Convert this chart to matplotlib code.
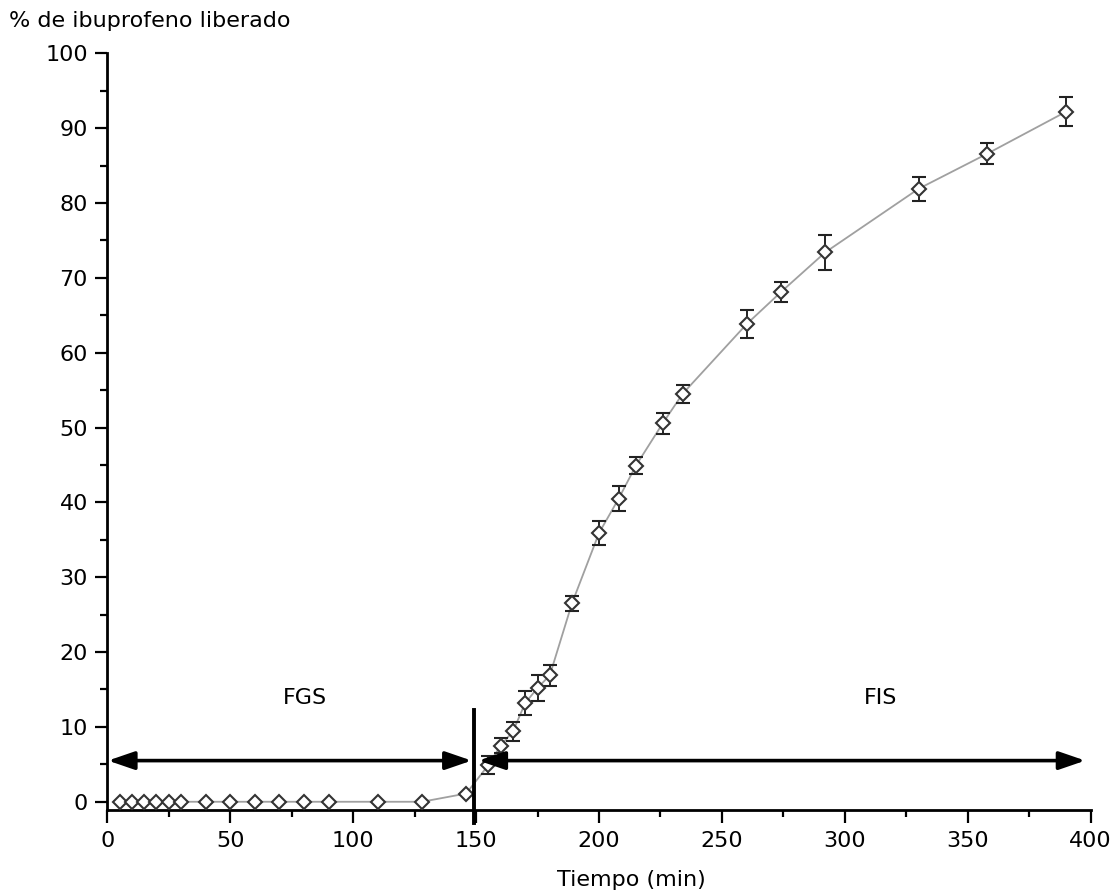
import matplotlib
matplotlib.use('Agg')
import matplotlib.pyplot as plt
from matplotlib.ticker import MultipleLocator

# tiempos de muestreo (min) y porcentaje liberado, con su desviación
tiempo = [5, 10, 15, 20, 25, 30, 40, 50, 60, 70, 80, 90, 110, 128, 146,
          155, 160, 165, 170, 175, 180, 189, 200, 208, 215, 226, 234,
          260, 274, 292, 330, 358, 390]
liberado = [0, 0, 0, 0, 0, 0, 0, 0, 0, 0, 0, 0, 0, 0, 1.1,
            4.9, 7.5, 9.4, 13.2, 15.2, 16.9, 26.5, 35.9, 40.5, 44.9, 50.6, 54.5,
            63.8, 68.1, 73.4, 81.9, 86.6, 92.2]
desv = [0, 0, 0, 0, 0, 0, 0, 0, 0, 0, 0, 0, 0, 0, 0,
        1.2, 1.0, 1.3, 1.6, 1.8, 1.4, 1.0, 1.65, 1.65, 1.15, 1.4, 1.2,
        1.9, 1.35, 2.3, 1.6, 1.35, 1.9]

# cambio de fluido gástrico a intestinal
t_cambio = 149.3
fases = ['FGS', 'FIS']
fases_x = [80.4, 314.4]

fs = 16
plt.rcParams['font.family'] = ['DejaVu Sans']

fig = plt.figure(figsize=(11.11, 8.94), dpi=100)
ax = fig.add_axes([107.3 / 1111, 84 / 894, (1090.7 - 107.3) / 1111, (810 - 53.3) / 894])

# curva y puntos con barras de error
ax.plot(tiempo, liberado, color='#a0a0a0', lw=1.3, zorder=2)
ax.errorbar(tiempo, liberado, yerr=desv, fmt='D', ms=7.5, mfc='white', mec='#333333',
            mew=1.5, ecolor='#222222', elinewidth=1.4, capsize=5, capthick=2,
            zorder=3)

# flechas de las dos fases y línea de cambio
flecha = dict(arrowstyle='<|-|>,head_length=1.6,head_width=0.55', color='black',
              lw=2.6, shrinkA=0, shrinkB=0, mutation_scale=10)
ax.annotate('', xy=(0.3, 5.5), xytext=(148.2, 5.5), arrowprops=flecha, zorder=4)
ax.annotate('', xy=(151, 5.5), xytext=(397.8, 5.5), arrowprops=flecha, zorder=4)
ax.plot([t_cambio, t_cambio], [12.3, -2.9], color='black', lw=2.8,
        clip_on=False, zorder=5)

for nombre, xt in zip(fases, fases_x):
    ax.text(xt, 13.9, nombre, ha='center', va='center', fontsize=fs)

ax.set_xlim(0, 400)
ax.set_ylim(-1.1, 100)
ax.xaxis.set_major_locator(MultipleLocator(50))
ax.xaxis.set_minor_locator(MultipleLocator(25))
ax.yaxis.set_major_locator(MultipleLocator(10))
ax.yaxis.set_minor_locator(MultipleLocator(5))
ax.set_yticks(range(0, 101, 10))

for lado in ['top', 'right']:
    ax.spines[lado].set_visible(False)
for lado in ['left', 'bottom']:
    ax.spines[lado].set_linewidth(2)
ax.spines['left'].set_bounds(-1.1, 100)

ax.tick_params(which='major', length=9, width=1.6, labelsize=fs, pad=5)
ax.tick_params(which='minor', length=5, width=1.6)
ax.tick_params(axis='x', which='major', pad=6)

fig.text(631.7 / 1111, (894 - 886) / 894, 'Tiempo (min)', ha='center',
         va='baseline', fontsize=fs)
fig.text(9 / 1111, (894 - 26.7) / 894, '% de ibuprofeno liberado', ha='left',
         va='baseline', fontsize=fs)

plt.grid(False)
fig.savefig('out.png', dpi=100)
